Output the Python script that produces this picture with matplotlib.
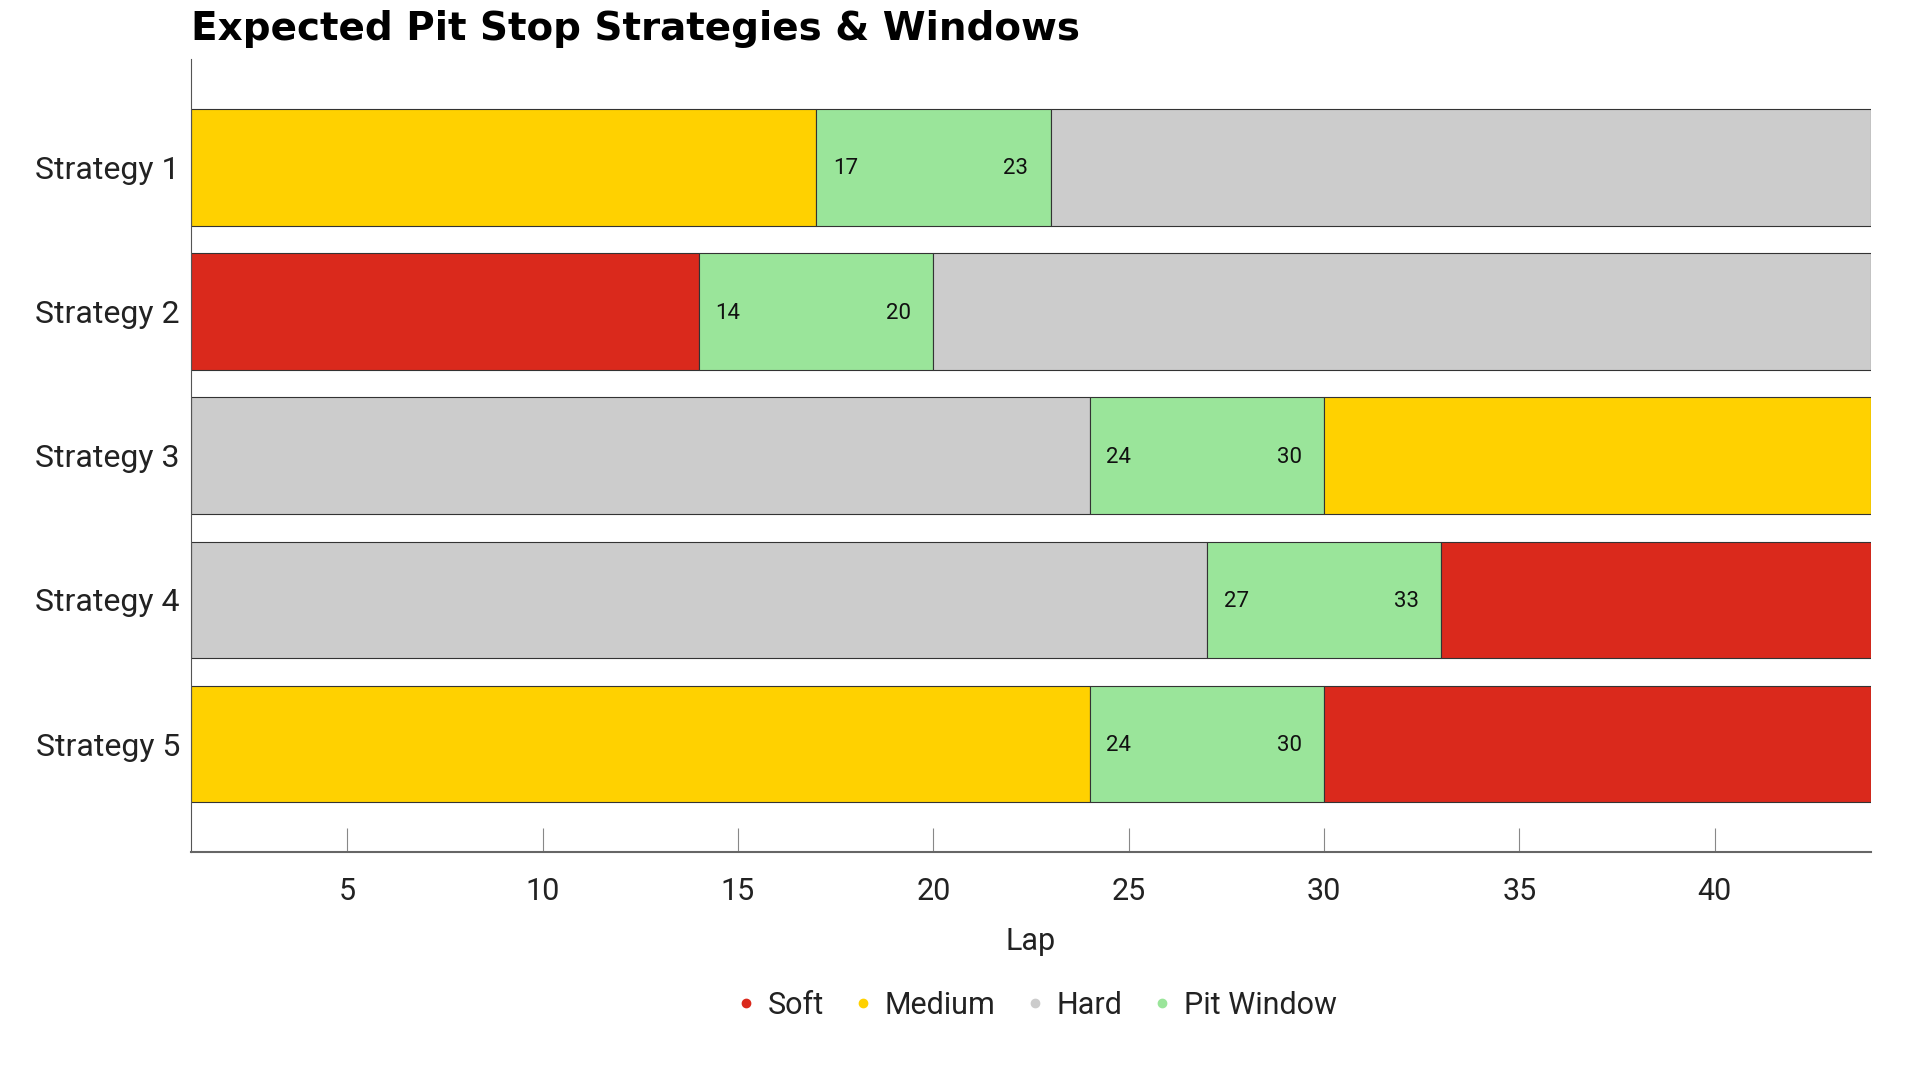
import matplotlib
matplotlib.use("Agg")
import matplotlib.pyplot as plt
from matplotlib.lines import Line2D

plt.rcParams['font.family'] = ['Roboto', 'DejaVu Sans']

strategies = ["Strategy 1", "Strategy 2", "Strategy 3", "Strategy 4", "Strategy 5"]
first_compound = ["Medium", "Soft", "Hard", "Hard", "Medium"]
window_start = [17, 14, 24, 27, 24]
window_end = [23, 20, 30, 33, 30]
second_compound = ["Hard", "Hard", "Medium", "Soft", "Soft"]
race_start = 1
race_laps = 44

colors = {"Soft": "#DA291C", "Medium": "#FFD100", "Hard": "#CCCCCC", "Pit Window": "#9AE59A"}

fig = plt.figure(figsize=(19.2, 10.8), dpi=100)
ax = fig.add_axes([0.0995, 0.211, 0.875, 0.734])

edge = "#333333"
for i, name in enumerate(strategies):
    ax.barh(i, window_start[i] - race_start, left=race_start, height=0.81,
            color=colors[first_compound[i]], edgecolor=edge, linewidth=0.8)
    ax.barh(i, window_end[i] - window_start[i], left=window_start[i], height=0.81,
            color=colors["Pit Window"], edgecolor=edge, linewidth=0.8)
    ax.barh(i, race_laps - window_end[i], left=window_end[i], height=0.81,
            color=colors[second_compound[i]], edgecolor=edge, linewidth=0.8)
    ax.annotate(str(window_start[i]), (window_start[i], i), xytext=(12, -1),
                textcoords="offset points", ha="left", va="center", fontsize=16, color="#111111")
    ax.annotate(str(window_end[i]), (window_end[i], i), xytext=(-16, -1),
                textcoords="offset points", ha="right", va="center", fontsize=16, color="#111111")

ax.set_xlim(race_start, race_laps)
ax.set_ylim(4.75, -0.75)
ax.set_yticks(range(len(strategies)))
ax.set_yticklabels(strategies, fontsize=23, color="#222222")
ax.set_xticks([5, 10, 15, 20, 25, 30, 35, 40])
ax.tick_params(axis="x", direction="in", length=17, width=0.8, color="#888888",
               labelsize=22, labelcolor="#222222", pad=18)
ax.tick_params(axis="y", length=0, pad=8)
for s in ["top", "right"]:
    ax.spines[s].set_visible(False)
ax.spines["left"].set_color("#555555")
ax.spines["left"].set_linewidth(0.8)
ax.spines["bottom"].set_color("#666666")
ax.spines["bottom"].set_linewidth(1.5)

ax.set_xlabel("Lap", fontsize=22, color="#222222", labelpad=15)
ax.set_title("Expected Pit Stop Strategies & Windows", loc="left", fontsize=28,
             fontweight="bold", family=["DejaVu Sans"], color="#000000", pad=14)

handles = [Line2D([0], [0], marker="o", linestyle="", markersize=6,
                  markerfacecolor=colors[k], markeredgecolor=colors[k], label=k)
           for k in ["Soft", "Medium", "Hard", "Pit Window"]]
fig.legend(handles=handles, loc="center", bbox_to_anchor=(0.54, 0.069), ncol=4,
           frameon=False, fontsize=22, handlelength=0.6, handletextpad=0.4,
           columnspacing=1.0, labelcolor="#222222")

fig.savefig("out.png", dpi=100)
